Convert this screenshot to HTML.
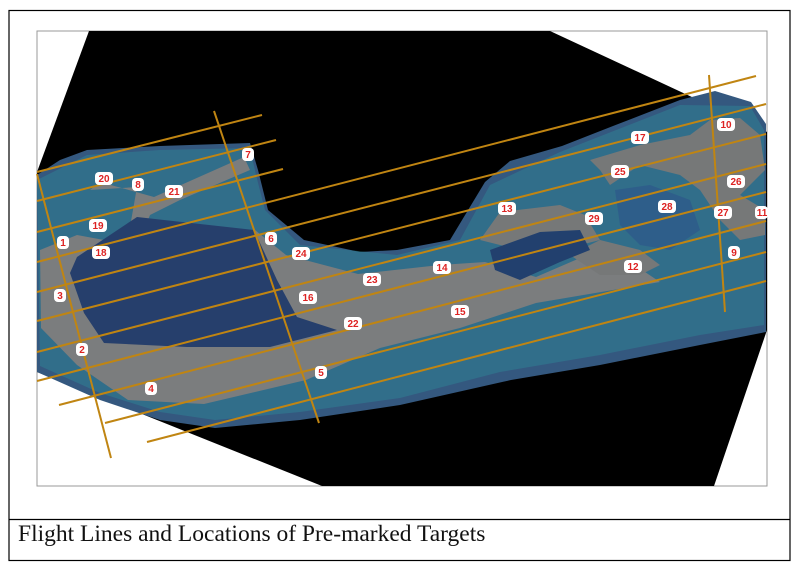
<!DOCTYPE html>
<html><head><meta charset="utf-8"><style>
body{margin:0;background:#fff;width:800px;height:571px;overflow:hidden;font-family:"Liberation Sans",sans-serif}
svg{position:absolute;left:0;top:0}
.cap{position:absolute;left:18px;top:521px;font-family:"Liberation Serif",serif;font-size:23.5px;color:#111}
</style></head><body>
<svg width="800" height="571" viewBox="0 0 800 571">
<rect x="9" y="10.5" width="781" height="550" fill="#fff" stroke="#000" stroke-width="1.2"/>
<line x1="9" y1="519.5" x2="790" y2="519.5" stroke="#000" stroke-width="1.2"/>
<rect x="37" y="31" width="730" height="455" fill="#fff" stroke="#999" stroke-width="1"/>
<polygon points="89,31 550,31 767,132 767,330 714,486 322,486 37,372 37,172" fill="#000"/>
<!-- water -->
<path d="M37,175 L60,160 L87,150 L160,146 L250,143 L258,170 L268,210 L304,240 L360,252 L397,250 L450,240 L485,182 L510,161 L562,146 L613,126 L680,100 L715,91 L751,102 L766,124 L766,332 L700,345 L600,365 L511,380 L400,405 L300,420 L215,428 L160,420 L100,400 L37,372 Z" fill="#34587f"/>
<path d="M37,180 L87,155 L160,150 L250,148 L256,175 L265,210 L300,245 L397,255 L460,240 L490,185 L560,152 L680,105 L750,106 L764,130 L764,325 L700,335 L600,355 L500,372 L400,398 L300,412 L215,420 L160,412 L100,393 L40,366 Z" fill="#2f8a99" opacity="0.45"/>
<!-- land main -->
<path d="M40,250 L77,235 L104,240 L130,227 L137,187 L90,190 L100,182 L154,197 L244,157 L250,170 L180,200 L150,215 L140,240 L255,230 L286,255 L358,274 L440,265 L485,262 L536,277 L587,255 L639,268 L660,282 L613,290 L536,303 L460,328 L380,348 L306,380 L204,404 L128,400 L77,365 L41,328 Z" fill="#7b7d7e"/>
<path d="M480,240 L500,212 L560,205 L585,215 L600,240 L560,250 L520,250 Z" fill="#767878"/>
<path d="M570,255 L600,240 L640,250 L660,265 L640,275 L600,275 Z" fill="#767878"/>
<path d="M590,160 L640,145 L690,135 L710,120 L740,118 L760,135 L765,170 L740,195 L765,210 L765,235 L740,240 L720,220 L700,190 L680,175 L640,165 L610,185 L600,170 Z" fill="#767878"/>
<!-- lagoons -->
<path d="M77,257 L137,217 L254,230 L277,280 L297,317 L337,330 L270,347 L187,347 L104,343 L84,313 L70,273 Z" fill="#263f6c"/>
<path d="M490,250 L540,232 L580,230 L590,250 L560,262 L520,280 L495,270 Z" fill="#22406e"/>
<path d="M615,190 L650,185 L690,200 L700,230 L670,250 L640,245 L620,225 Z" fill="#2e5e8a"/>
<!-- lines -->
<g stroke="#c08512" stroke-width="2" fill="none">
<line x1="37" y1="172" x2="262" y2="115"/>
<line x1="37" y1="201" x2="276" y2="140"/>
<line x1="37" y1="232" x2="283" y2="169"/>
<line x1="37" y1="262" x2="756" y2="76"/>
<line x1="37" y1="292" x2="766" y2="104"/>
<line x1="37" y1="321" x2="766" y2="134"/>
<line x1="37" y1="352" x2="766" y2="164"/>
<line x1="37" y1="381" x2="766" y2="192"/>
<line x1="59" y1="405" x2="766" y2="221"/>
<line x1="105" y1="423" x2="766" y2="252"/>
<line x1="147" y1="442" x2="766" y2="281"/>
<line x1="37" y1="174" x2="111" y2="458"/>
<line x1="214" y1="111" x2="319" y2="423"/>
<line x1="709" y1="75" x2="725" y2="312"/>
</g>
<g font-size="10" font-weight="bold" fill="#d22" text-anchor="middle">
<g fill="#fff"><rect x="95" y="172" width="18" height="13" rx="4"/><rect x="132" y="178" width="12" height="13" rx="4"/><rect x="165" y="185" width="18" height="13" rx="4"/><rect x="242" y="148" width="12" height="13" rx="4"/><rect x="89" y="219" width="18" height="13" rx="4"/><rect x="57" y="236" width="12" height="13" rx="4"/><rect x="92" y="246" width="18" height="13" rx="4"/><rect x="265" y="232" width="12" height="13" rx="4"/><rect x="292" y="247" width="18" height="13" rx="4"/><rect x="54" y="289" width="12" height="13" rx="4"/><rect x="363" y="273" width="18" height="13" rx="4"/><rect x="299" y="291" width="18" height="13" rx="4"/><rect x="344" y="317" width="18" height="13" rx="4"/><rect x="76" y="343" width="12" height="13" rx="4"/><rect x="315" y="366" width="12" height="13" rx="4"/><rect x="145" y="382" width="12" height="13" rx="4"/><rect x="433" y="261" width="18" height="13" rx="4"/><rect x="498" y="202" width="18" height="13" rx="4"/><rect x="451" y="305" width="18" height="13" rx="4"/><rect x="585" y="212" width="18" height="13" rx="4"/><rect x="631" y="131" width="18" height="13" rx="4"/><rect x="611" y="165" width="18" height="13" rx="4"/><rect x="658" y="200" width="18" height="13" rx="4"/><rect x="717" y="118" width="18" height="13" rx="4"/><rect x="727" y="175" width="18" height="13" rx="4"/><rect x="714" y="206" width="18" height="13" rx="4"/><rect x="755" y="206" width="13" height="13" rx="4"/><rect x="728" y="246" width="12" height="13" rx="4"/><rect x="624" y="260" width="18" height="13" rx="4"/></g>
<text x="104" y="182">20</text><text x="138" y="188">8</text><text x="174" y="195">21</text><text x="248" y="158">7</text><text x="98" y="229">19</text><text x="63" y="246">1</text><text x="101" y="256">18</text><text x="271" y="242">6</text><text x="301" y="257">24</text><text x="60" y="299">3</text><text x="372" y="283">23</text><text x="308" y="301">16</text><text x="353" y="327">22</text><text x="82" y="353">2</text><text x="321" y="376">5</text><text x="151" y="392">4</text><text x="442" y="271">14</text><text x="507" y="212">13</text><text x="460" y="315">15</text><text x="594" y="222">29</text><text x="640" y="141">17</text><text x="620" y="175">25</text><text x="667" y="210">28</text><text x="726" y="128">10</text><text x="736" y="185">26</text><text x="723" y="216">27</text><text x="762" y="216">11</text><text x="734" y="256">9</text><text x="633" y="270">12</text>
</g>
</svg>
<div class="cap">Flight Lines and Locations of Pre-marked Targets</div>
</body></html>
